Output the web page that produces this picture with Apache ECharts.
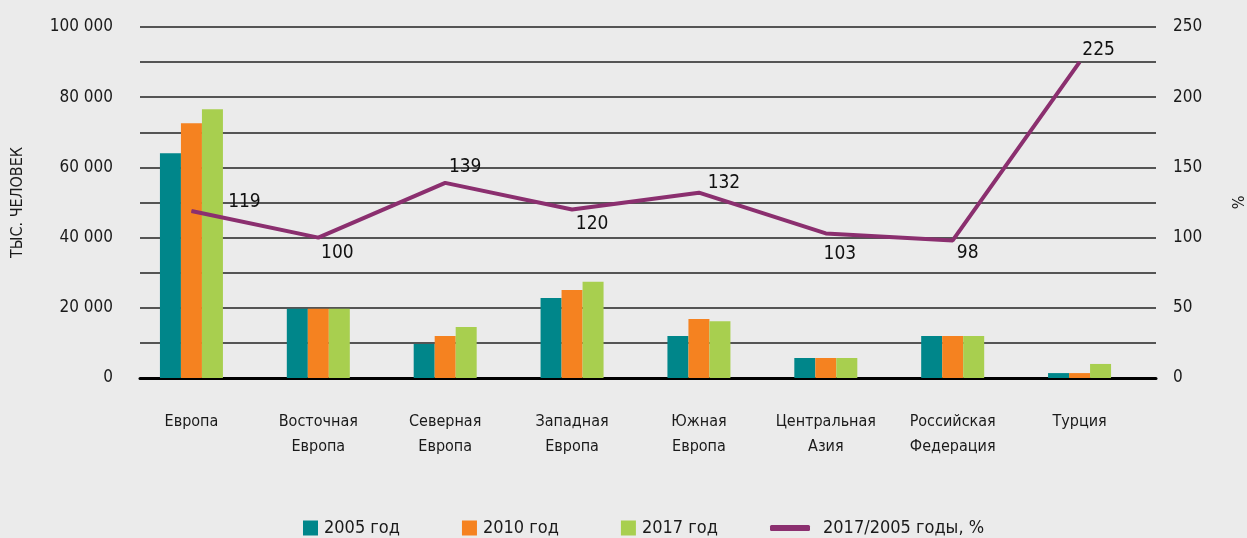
<!DOCTYPE html>
<html>
<head>
<meta charset="utf-8">
<script src="https://cdn.jsdelivr.net/npm/echarts@6/dist/echarts.min.js"></script>
<style>
  html, body { margin: 0; padding: 0; background: #ebebeb; }
  #chart { width: 1247px; height: 538px; }
</style>
</head>
<body>
<div id="chart"></div>
<script>
// данные
var categories = ['Европа', 'Восточная\nЕвропа', 'Северная\nЕвропа', 'Западная\nЕвропа',
  'Южная\nЕвропа', 'Центральная\nАзия', 'Российская\nФедерация', 'Турция'];
var y2005 = [64000, 19700, 9700, 22800, 12000, 5700, 12000, 1400];
var y2010 = [72600, 19700, 12000, 25100, 16800, 5700, 12000, 1400];
var y2017 = [76600, 19700, 14500, 27400, 16200, 5700, 12000, 4000];
var ratio = [119, 100, 139, 120, 132, 103, 98, 225];
var leftTicks = [0, 20000, 40000, 60000, 80000, 100000];
var rightTicks = [0, 50, 100, 150, 200, 250];

// сдвиг подписей линии от точки
var labelOffsets = [[53, -9], [19, 15], [20, -16], [20, 15], [25, -10], [14, 21], [15, 13], [19, -12]];

var FONT = '"DejaVu Sans Condensed", "DejaVu Sans", sans-serif';
var chart = echarts.init(document.getElementById('chart'));

function fmtThousands(v) {
  return String(v).replace(/\B(?=(\d{3})+(?!\d))/g, ' ');
}

var option = {
  backgroundColor: '#ebebeb',
  animation: false,
  textStyle: { fontFamily: FONT },
  legend: [{
    data: ['2005 год', '2010 год', '2017 год'],
    left: 303, top: 519, padding: 0,
    itemWidth: 15, itemHeight: 15, itemGap: 62,
    icon: 'rect',
    textStyle: { fontSize: 18, color: '#1a1a1a', fontFamily: FONT, padding: [0, 0, 0, 1] }
  }, {
    data: ['2017/2005 годы, %'],
    left: 770, top: 519, padding: 0,
    itemWidth: 40, itemHeight: 6,
    icon: 'roundRect',
    textStyle: { fontSize: 18, color: '#1a1a1a', fontFamily: FONT, padding: [0, 0, 0, 8] }
  }],
  grid: [
    { left: 128, right: 104, top: 27, bottom: 160, outerBoundsMode: 'none' },
    { left: 140, right: 91, top: 27, bottom: 160, outerBoundsMode: 'none' }
  ],
  xAxis: [{
    type: 'category', gridIndex: 0, data: categories,
    axisLine: { show: false }, axisTick: { show: false },
    axisLabel: { margin: 31, fontSize: 16, lineHeight: 25, color: '#1a1a1a', fontFamily: FONT, interval: 0 }
  }, {
    type: 'value', gridIndex: 1, min: 0, max: 1,
    axisLabel: { show: false }, axisTick: { show: false }, splitLine: { show: false },
    axisLine: { show: true, onZero: false, lineStyle: { color: '#000', width: 3 } }
  }],
  yAxis: [{
    type: 'value', gridIndex: 0, min: 0, max: 100000, interval: 10000, show: false
  }, {
    type: 'value', gridIndex: 0, min: 0, max: 250, interval: 25, show: false
  }, {
    type: 'value', gridIndex: 1, min: 0, max: 100000, interval: 10000,
    name: 'ТЫС. ЧЕЛОВЕК', nameLocation: 'middle', nameGap: 114, nameRotate: 90,
    nameTextStyle: { fontSize: 16, color: '#1a1a1a', fontFamily: FONT },
    axisLine: { show: false }, axisTick: { show: false },
    axisLabel: {
      margin: 27, fontSize: 17, color: '#1a1a1a', fontFamily: FONT,
      formatter: function (v) { return leftTicks.indexOf(v) >= 0 ? fmtThousands(v) : ''; }
    },
    splitLine: { lineStyle: { color: '#222', width: 1.5 } }
  }, {
    type: 'value', gridIndex: 1, position: 'right', min: 0, max: 250, interval: 25,
    name: '%', nameLocation: 'middle', nameGap: 76, nameRotate: 90,
    nameTextStyle: { fontSize: 16, color: '#1a1a1a', fontFamily: FONT },
    axisLine: { show: false }, axisTick: { show: false },
    axisLabel: {
      margin: 17, fontSize: 17, color: '#1a1a1a', fontFamily: FONT,
      formatter: function (v) { return rightTicks.indexOf(v) >= 0 ? String(v) : ''; }
    },
    splitLine: { show: false }
  }],
  series: [{
    name: '2005 год', type: 'bar', xAxisIndex: 0, yAxisIndex: 0,
    data: y2005, barWidth: 21, barGap: '0%', itemStyle: { color: '#00868a' }
  }, {
    name: '2010 год', type: 'bar', xAxisIndex: 0, yAxisIndex: 0,
    data: y2010, barWidth: 21, barGap: '0%', itemStyle: { color: '#f58220' }
  }, {
    name: '2017 год', type: 'bar', xAxisIndex: 0, yAxisIndex: 0,
    data: y2017, barWidth: 21, barGap: '0%', itemStyle: { color: '#a8cf4f' }
  }, {
    name: '2017/2005 годы, %', type: 'line', xAxisIndex: 0, yAxisIndex: 1,
    data: ratio.map(function (v, i) {
      return { value: v, label: { offset: labelOffsets[i] } };
    }),
    symbol: 'circle', symbolSize: 1, showSymbol: true, z: 5,
    lineStyle: { color: '#8b2f6f', width: 4 },
    itemStyle: { color: '#8b2f6f' },
    label: {
      show: true, position: 'inside',
      fontSize: 19, color: '#111', fontFamily: FONT
    }
  }]
};

chart.setOption(option);
</script>
</body>
</html>
